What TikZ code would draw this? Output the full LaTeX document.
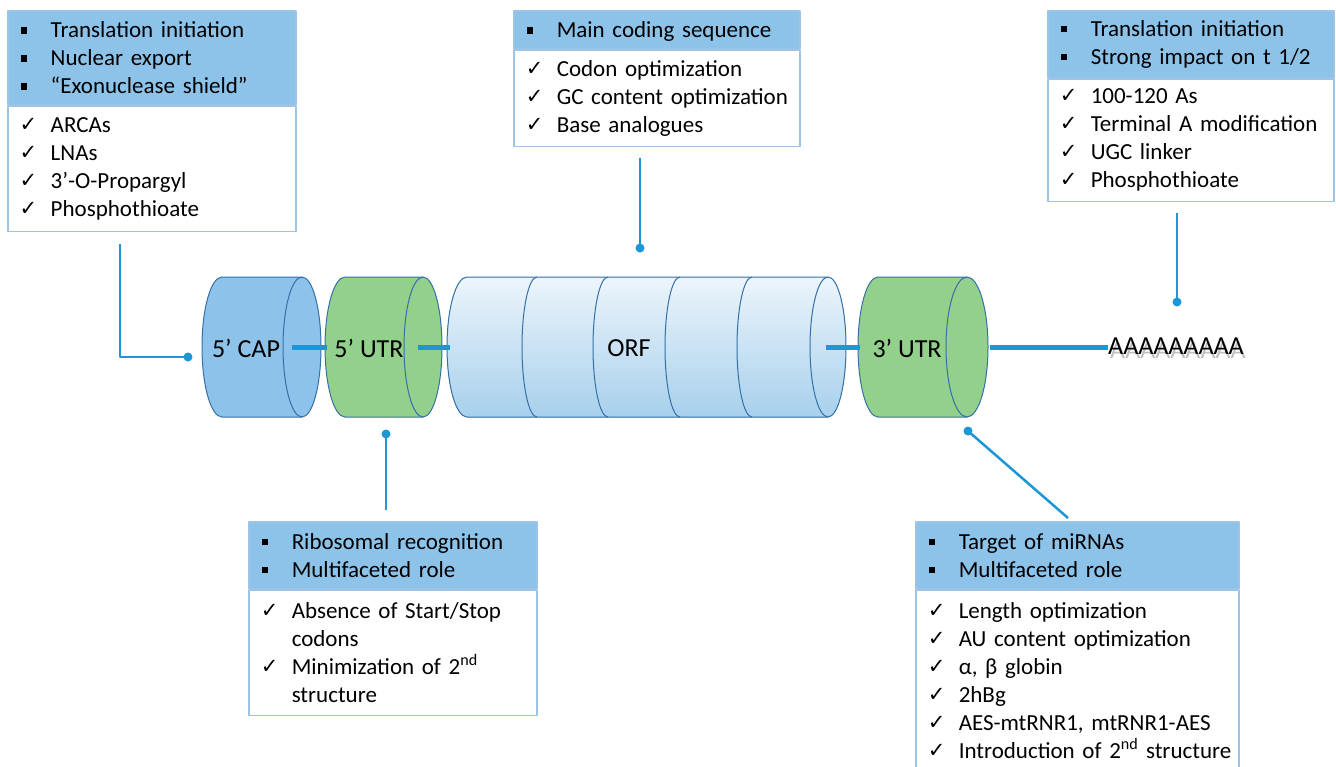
\documentclass[tikz,border=0pt]{standalone}
\usepackage{fontspec}
\setmainfont{Carlito}
\newfontfamily\symfont{DejaVu Sans}
\usetikzlibrary{positioning}
\definecolor{hdrblue}{RGB}{141,195,233}
\definecolor{frameblue}{RGB}{157,195,230}
\definecolor{capblue}{RGB}{141,195,234}
\definecolor{utrgreen}{RGB}{146,208,139}
\definecolor{edgeblue}{RGB}{52,112,168}
\definecolor{linkblue}{RGB}{27,150,215}
\definecolor{orftop}{RGB}{236,245,252}
\definecolor{orfbot}{RGB}{168,208,236}
% list markers
\newcommand{\sqb}[1]{\mbox{\makebox[31pt][l]{\hspace{1pt}\rule[4pt]{6.5pt}{6.5pt}}#1}}
\newcommand{\chk}[1]{\mbox{\makebox[31pt][l]{\raisebox{1pt}{\fontsize{21}{21}\symfont ✓}}#1}}
\newcommand{\cont}[1]{\mbox{\hspace*{31pt}#1}}
% cylinder: left x, right x, face x radius, fill options
\newcommand{\cyl}[4]{%
  \filldraw[#4, draw=edgeblue, line width=1pt] (#1,277) -- (#2,277)
    arc[start angle=90, end angle=-90, x radius=#3pt, y radius=70pt]
    -- (#1,417) arc[start angle=270, end angle=90, x radius=20pt, y radius=70pt] -- cycle;
  \draw[edgeblue, line width=1pt] (#2,277) arc[start angle=90, end angle=270, x radius=#3pt, y radius=70pt];}
\tikzset{
  hdr/.style={draw=frameblue, line width=1.5pt, fill=hdrblue, anchor=north west, align=left,
    inner xsep=12pt, inner ysep=0pt, font=\fontsize{23}{28}\selectfont},
  bdy/.style={hdr, fill=white},
  lbl/.style={font=\fontsize{26}{30}\selectfont, inner sep=0pt},
  link/.style={linkblue, line width=5pt},
  callout/.style={linkblue, line width=2.5pt},
  dot/.style={fill=linkblue}
}
\begin{document}
\begin{tikzpicture}[x=1pt,y=-1pt,line join=round]
\path[use as bounding box, clip] (0,0) rectangle (1336,766);
\fill[white] (0,0) rectangle (1336,766);

% mRNA cylinders
\cyl{222}{302}{19}{fill=capblue}
\cyl{345}{423}{19}{fill=utrgreen}
\cyl{467}{828}{18}{top color=orftop, bottom color=orfbot}
\foreach \x in {537,608,680,752}
  \draw[edgeblue, line width=1pt] (\x,277) arc[start angle=90, end angle=270, x radius=15pt, y radius=70pt];
\cyl{878}{967}{21}{fill=utrgreen}

\coordinate (capR) at (292,347);
\coordinate (utrL) at (327,347);
\coordinate (utrR) at (418,347);
\coordinate (orfL) at (450,347);
\coordinate (orfR) at (826,347);
\coordinate (tutrL) at (860,347);
\coordinate (tutrR) at (990,347);

\node[lbl] (cap) at (246,348) {5’ CAP};
\node[lbl] (utr) at (369,348) {5’ UTR};
\node[lbl] (orf) at (629,348) {ORF};
\node[lbl] (tutr) at (907,348) {3’ UTR};
\node[lbl, anchor=west] (polyA) at (1108,348)
  {\rlap{\hspace{2pt}\raisebox{-4pt}{\color{black!25}AAAAAAAAA}}AAAAAAAAA};

\draw[link] (capR) -- (utrL);
\draw[link] (utrR) -- (orfL);
\draw[link] (orfR) -- (tutrL);
\draw[link] (tutrR) -- (tutrR -| polyA.west);

% boxes
\node[hdr, text width=264pt, minimum height=94pt] (h1) at (7,10)
  {\sqb{Translation initiation}\\ \sqb{Nuclear export}\\ \sqb{“Exonuclease shield”}};
\node[bdy, text width=264pt, minimum height=125pt] (b1) at (h1.south west)
  {\chk{ARCAs}\\ \chk{LNAs}\\ \chk{3’-O-Propargyl}\\ \chk{Phosphothioate}};

\node[hdr, text width=262pt, minimum height=38pt, text height=20pt, text depth=4pt] (h2) at (513,10)
  {\sqb{Main coding sequence}};
\node[bdy, text width=262pt, minimum height=96pt] (b2) at (h2.south west)
  {\chk{Codon optimization}\\ \chk{GC content optimization}\\ \chk{Base analogues}};

\node[hdr, text width=262pt, minimum height=67pt] (h3) at (1047,10)
  {\sqb{Translation initiation}\\ \sqb{Strong impact on t 1/2}};
\node[bdy, text width=262pt, minimum height=122pt] (b3) at (h3.south west)
  {\chk{100-120 As}\\ \chk{Terminal A modification}\\ \chk{UGC linker}\\ \chk{Phosphothioate}};

\node[hdr, text width=264pt, minimum height=67pt] (h4) at (248,521)
  {\sqb{Ribosomal recognition}\\ \sqb{Multifaceted role}};
\node[bdy, text width=264pt, minimum height=125pt] (b4) at (h4.south west)
  {\chk{Absence of Start/Stop}\\ \cont{codons}\\ \chk{Minimization of 2\textsuperscript{nd}}\\ \cont{structure}};

\node[hdr, text width=299pt, minimum height=67pt] (h5) at (915,521)
  {\sqb{Target of miRNAs}\\ \sqb{Multifaceted role}};
\node[bdy, text width=299pt, minimum height=180pt] (b5) at (h5.south west)
  {\chk{Length optimization}\\ \chk{AU content optimization}\\ \chk{α, β globin}\\ \chk{2hBg}\\
   \chk{AES-mtRNR1, mtRNR1-AES}\\ \chk{Introduction of 2\textsuperscript{nd} structure}};

% callouts
\coordinate (d1) at (188,357);
\coordinate (d2) at (640,248);
\coordinate (d3) at (1177,302);
\coordinate (d4) at (386,434);
\coordinate (d5) at (968,431);
\draw[callout] ([shift={(113,12)}]b1.south west) |- (d1);
\draw[callout] ([shift={(127,11)}]b2.south west) -- (d2);
\draw[callout] ([shift={(130,11)}]b3.south west) -- (d3);
\draw[callout] ([shift={(138,-11)}]h4.north west) -- (d4);
\draw[callout] ([shift={(153,-3)}]h5.north west) -- (d5);
\foreach \d in {d1,d2,d3,d4,d5}
  \fill[dot] (\d) circle[radius=4.5pt];
\end{tikzpicture}
\end{document}
